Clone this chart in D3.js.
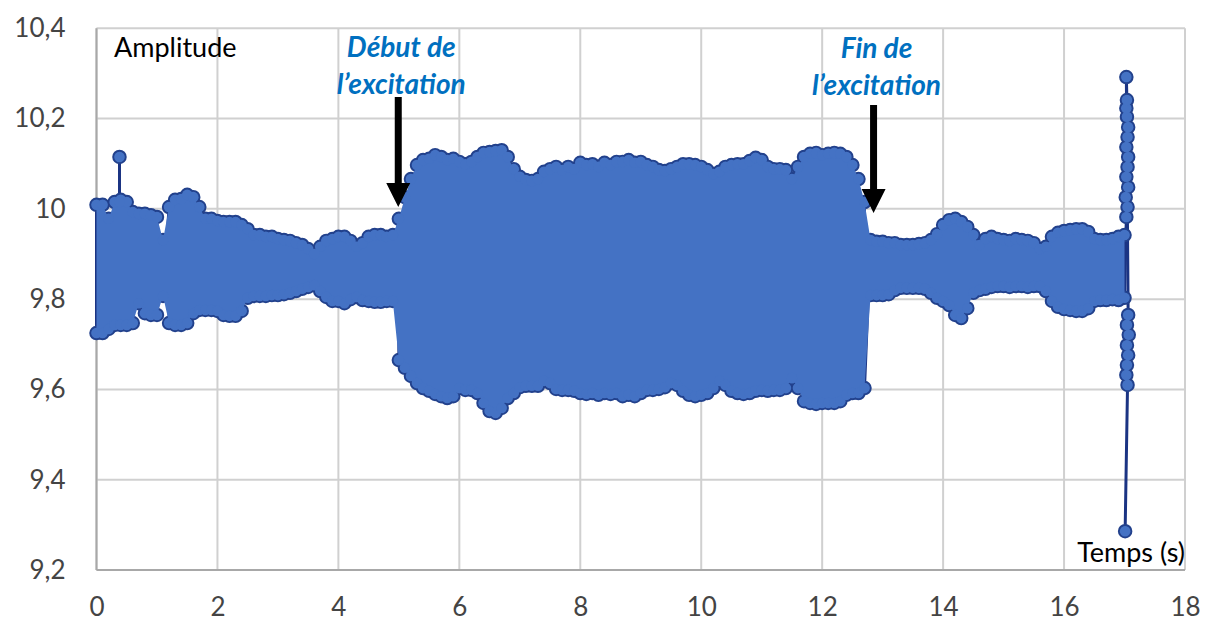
<!DOCTYPE html>
<html>
<head>
<meta charset="utf-8">
<script src="https://cdn.jsdelivr.net/npm/d3@7/dist/d3.min.js"></script>
<style>
  body { margin: 0; background: #fff; }
  text { font-family: Lato, "Open Sans", sans-serif; }
</style>
</head>
<body>
<svg id="chart" width="1210" height="621"></svg>
<script>
// Axis ticks and labels
const xTicks = [0, 2, 4, 6, 8, 10, 12, 14, 16, 18];
const yTicks = [9.2, 9.4, 9.6, 9.8, 10, 10.2, 10.4];
const yTickLabels = ['9,2', '9,4', '9,6', '9,8', '10', '10,2', '10,4'];

// Sampling instants (s) of the signal envelope
const envTime = [
  0, 0.1, 0.2, 0.3, 0.4, 0.5, 0.6, 0.7, 0.8, 0.9,
  1, 1.1, 1.2, 1.3, 1.4, 1.5, 1.6, 1.7, 1.8, 1.9,
  2, 2.1, 2.2, 2.3, 2.4, 2.5, 2.6, 2.7, 2.8, 2.9,
  3, 3.1, 3.2, 3.3, 3.4, 3.5, 3.6, 3.7, 3.8, 3.9,
  4, 4.1, 4.2, 4.3, 4.4, 4.5, 4.6, 4.7, 4.8, 4.9,
  5, 5.1, 5.2, 5.3, 5.4, 5.5, 5.6, 5.7, 5.8, 5.9,
  6, 6.1, 6.2, 6.3, 6.4, 6.5, 6.6, 6.7, 6.8, 6.9,
  7, 7.1, 7.2, 7.3, 7.4, 7.5, 7.6, 7.7, 7.8, 7.9,
  8, 8.1, 8.2, 8.3, 8.4, 8.5, 8.6, 8.7, 8.8, 8.9,
  9, 9.1, 9.2, 9.3, 9.4, 9.5, 9.6, 9.7, 9.8, 9.9,
  10, 10.1, 10.2, 10.3, 10.4, 10.5, 10.6, 10.7, 10.8, 10.9,
  11, 11.1, 11.2, 11.3, 11.4, 11.5, 11.6, 11.7, 11.8, 11.9,
  12, 12.1, 12.2, 12.3, 12.4, 12.5, 12.6, 12.7, 12.8, 12.9,
  13, 13.1, 13.2, 13.3, 13.4, 13.5, 13.6, 13.7, 13.8, 13.9,
  14, 14.1, 14.2, 14.3, 14.4, 14.5, 14.6, 14.7, 14.8, 14.9,
  15, 15.1, 15.2, 15.3, 15.4, 15.5, 15.6, 15.7, 15.8, 15.9,
  16, 16.1, 16.2, 16.3, 16.4, 16.5, 16.6, 16.7, 16.8, 16.9,
  17
];

// Highest sample around each instant
const amplitudeMax = [
  10.009, 10.009, 9.978, 10.015, 10.020, 10.015, 9.993, 9.989, 9.989, 9.986,
  9.982, 9.931, 10.004, 10.020, 10.022, 10.031, 10.026, 10.004, 9.978, 9.978,
  9.973, 9.971, 9.971, 9.971, 9.964, 9.955, 9.942, 9.942, 9.938, 9.938,
  9.933, 9.931, 9.929, 9.924, 9.920, 9.911, 9.900, 9.916, 9.929, 9.933,
  9.938, 9.938, 9.929, 9.916, 9.924, 9.938, 9.942, 9.942, 9.938, 9.942,
  9.978, 10.026, 10.066, 10.097, 10.108, 10.111, 10.119, 10.115, 10.108, 10.111,
  10.104, 10.099, 10.104, 10.115, 10.124, 10.126, 10.128, 10.130, 10.115, 10.088,
  10.071, 10.064, 10.062, 10.066, 10.082, 10.088, 10.093, 10.086, 10.093, 10.088,
  10.102, 10.097, 10.099, 10.093, 10.102, 10.097, 10.104, 10.104, 10.108, 10.102,
  10.104, 10.097, 10.093, 10.086, 10.084, 10.088, 10.093, 10.099, 10.099, 10.097,
  10.093, 10.086, 10.077, 10.082, 10.093, 10.097, 10.099, 10.099, 10.106, 10.113,
  10.108, 10.093, 10.088, 10.088, 10.086, 10.066, 10.093, 10.115, 10.122, 10.124,
  10.119, 10.122, 10.124, 10.122, 10.115, 10.097, 10.066, 10.015, 9.931, 9.927,
  9.927, 9.924, 9.924, 9.920, 9.920, 9.920, 9.922, 9.924, 9.931, 9.944,
  9.964, 9.975, 9.978, 9.971, 9.960, 9.942, 9.920, 9.933, 9.938, 9.933,
  9.931, 9.929, 9.933, 9.931, 9.929, 9.924, 9.911, 9.916, 9.938, 9.947,
  9.951, 9.953, 9.955, 9.955, 9.949, 9.933, 9.931, 9.931, 9.933, 9.938,
  9.942
];

// Lowest sample around each instant
const amplitudeMin = [
  9.725, 9.725, 9.734, 9.743, 9.743, 9.743, 9.747, 9.791, 9.769, 9.765,
  9.765, 9.807, 9.747, 9.743, 9.743, 9.747, 9.769, 9.776, 9.776, 9.776,
  9.774, 9.765, 9.763, 9.763, 9.774, 9.803, 9.807, 9.807, 9.807, 9.809,
  9.809, 9.811, 9.814, 9.818, 9.823, 9.827, 9.831, 9.818, 9.805, 9.796,
  9.796, 9.791, 9.800, 9.805, 9.798, 9.796, 9.794, 9.794, 9.796, 9.796,
  9.665, 9.648, 9.630, 9.614, 9.603, 9.597, 9.590, 9.585, 9.581, 9.585,
  9.603, 9.599, 9.599, 9.592, 9.570, 9.552, 9.548, 9.559, 9.581, 9.592,
  9.605, 9.608, 9.608, 9.608, 9.619, 9.614, 9.601, 9.599, 9.599, 9.597,
  9.592, 9.590, 9.592, 9.588, 9.592, 9.590, 9.592, 9.585, 9.588, 9.585,
  9.592, 9.599, 9.599, 9.601, 9.605, 9.614, 9.610, 9.597, 9.588, 9.585,
  9.588, 9.592, 9.603, 9.619, 9.610, 9.597, 9.592, 9.590, 9.592, 9.597,
  9.599, 9.597, 9.599, 9.599, 9.603, 9.625, 9.603, 9.574, 9.570, 9.568,
  9.570, 9.570, 9.570, 9.574, 9.588, 9.592, 9.592, 9.603, 9.809, 9.809,
  9.809, 9.811, 9.820, 9.825, 9.825, 9.825, 9.825, 9.823, 9.814, 9.803,
  9.796, 9.787, 9.765, 9.758, 9.780, 9.814, 9.820, 9.823, 9.827, 9.829,
  9.829, 9.827, 9.829, 9.829, 9.827, 9.829, 9.829, 9.818, 9.796, 9.783,
  9.778, 9.776, 9.774, 9.774, 9.780, 9.796, 9.798, 9.798, 9.800, 9.798,
  9.803
];

// Isolated peak near the start
const peakTime = [0.38, 0.38];
const peakValue = [10.015, 10.115];

// Last samples (the sensor is released)
const spikeTime = [17.03, 17.05, 17.02, 17.06, 17.03, 17.05, 17.06, 17.03, 17.05, 17.06,
  17.04, 17.03, 17.04, 17.03, 17.06, 17.04, 17.07, 17.04, 17.06, 17.04, 17.03, 17.05, 17.01];
const spikeValue = [9.982, 10.004, 10.026, 10.048, 10.071, 10.093, 10.115, 10.137, 10.159, 10.181,
  10.204, 10.223, 10.241, 10.292, 9.765, 9.743, 9.721, 9.698, 9.676, 9.654, 9.632, 9.610, 9.286];

// Annotations: time of the arrow, value pointed at
const noteLines = [['Début de', 'l’excitation'], ['Fin de', 'l’excitation']];
const noteTime = [4.99, 12.85];
const noteTip = [10.004, 9.991];

const svg = d3.select('#chart');
const x = d3.scaleLinear().domain([0, 18]).range([96.5, 1185]);
const y = d3.scaleLinear().domain([9.2, 10.4]).range([570, 28.3]);

const blue = '#4472C4';
const edge = '#22418c';
const navy = '#1b3483';

// Grid
const grid = svg.append('g');
grid.selectAll('.gx').data(xTicks).join('line')
  .attr('x1', d => x(d)).attr('x2', d => x(d))
  .attr('y1', y(10.4)).attr('y2', y(9.2))
  .attr('stroke', '#d0d0d0').attr('stroke-width', 2);
grid.selectAll('.gy').data(yTicks).join('line')
  .attr('x1', x(0)).attr('x2', x(18))
  .attr('y1', d => y(d)).attr('y2', d => y(d))
  .attr('stroke', '#d0d0d0').attr('stroke-width', 2);
grid.append('line').attr('x1', x(0)).attr('x2', x(0)).attr('y1', y(10.4)).attr('y2', y(9.2))
  .attr('stroke', '#a8a8a8').attr('stroke-width', 2);
grid.append('line').attr('x1', x(0)).attr('x2', x(18)).attr('y1', y(9.2)).attr('y2', y(9.2))
  .attr('stroke', '#a8a8a8').attr('stroke-width', 2);

// Axes (labels only)
const xAxis = svg.append('g').attr('transform', `translate(0,${y(9.2)})`)
  .call(d3.axisBottom(x).tickValues(xTicks).tickSize(0).tickPadding(28));
const yAxis = svg.append('g').attr('transform', `translate(${x(0)},0)`)
  .call(d3.axisLeft(y).tickValues(yTicks).tickSize(0).tickPadding(31)
    .tickFormat((d, i) => yTickLabels[i]));
[xAxis, yAxis].forEach(a => {
  a.select('.domain').remove();
  a.selectAll('text').attr('font-size', 26).attr('fill', '#444')
    .style('font-family', 'Lato, "Open Sans", sans-serif');
});

// Signal samples: max and min for each instant, then the peaks
const signal = [];
envTime.forEach((t, i) => {
  signal.push({ t, v: amplitudeMax[i] });
  signal.push({ t, v: amplitudeMin[i] });
});
const peak = peakTime.map((t, i) => ({ t, v: peakValue[i] }));
const spike = spikeTime.map((t, i) => ({ t, v: spikeValue[i] }));
const allPoints = signal.concat(peak, spike);

const line = d3.line().x(d => x(d.t)).y(d => y(d.v));
const plot = svg.append('g');

[signal, peak, spike].forEach(s => {
  plot.append('path').datum(s).attr('d', line)
    .attr('fill', 'none').attr('stroke', navy).attr('stroke-width', 3);
});
plot.append('path').datum([signal[signal.length - 1], spike[0]]).attr('d', line)
  .attr('fill', 'none').attr('stroke', navy).attr('stroke-width', 3);

// Marker outlines
plot.selectAll('.mk').data(allPoints).join('circle')
  .attr('cx', d => x(d.t)).attr('cy', d => y(d.v)).attr('r', 6)
  .attr('fill', blue).attr('stroke', edge).attr('stroke-width', 2.5);

// Body of the oscillation
const area = d3.area().x(t => x(t))
  .y0((t, i) => y(amplitudeMin[i])).y1((t, i) => y(amplitudeMax[i]));
plot.append('path').datum(envTime).attr('d', area).attr('fill', blue);

// Marker fills on top
plot.selectAll('.mf').data(allPoints).join('circle')
  .attr('cx', d => x(d.t)).attr('cy', d => y(d.v)).attr('r', 5.3)
  .attr('fill', blue);

// Axis titles
svg.append('text').attr('x', 114).attr('y', 57).attr('font-size', 27)
  .attr('fill', '#000').text('Amplitude');
svg.append('text').attr('x', 1185).attr('y', 562).attr('text-anchor', 'end')
  .attr('font-size', 27).attr('fill', '#000').text('Temps (s)');

// Annotations with arrows
const notes = svg.append('g');
noteLines.forEach((lines, k) => {
  const ax = x(noteTime[k]);
  const tipY = y(noteTip[k]);
  const textX = ax + 3;
  const topY = k === 0 ? 97 : 105;
  lines.forEach((txt, j) => {
    notes.append('text').attr('x', textX).attr('y', (k === 0 ? 57 : 58) + j * 37)
      .attr('text-anchor', 'middle').attr('font-size', 28)
      .attr('font-weight', 'bold').attr('font-style', 'italic')
      .attr('fill', '#0070C0').text(txt);
  });
  const headH = 24, headW = 12, shaft = 3.5;
  notes.append('path')
    .attr('d', `M${ax - shaft},${topY} L${ax + shaft},${topY} L${ax + shaft},${tipY - headH}
      L${ax + headW},${tipY - headH} L${ax},${tipY} L${ax - headW},${tipY - headH}
      L${ax - shaft},${tipY - headH} Z`)
    .attr('fill', '#000');
});
</script>
</body>
</html>
